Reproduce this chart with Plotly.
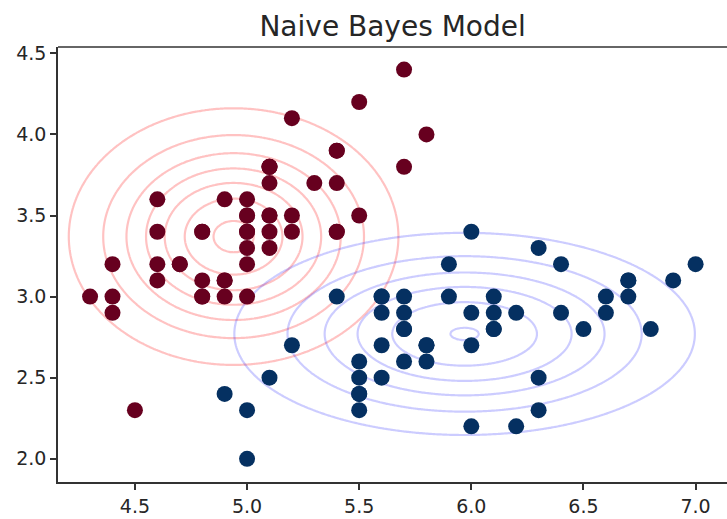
import numpy as np
import plotly.graph_objects as go

# ---- data (iris: sepal length vs sepal width) ----
class0_x = [5.1, 4.9, 4.7, 4.6, 5.0, 5.4, 4.6, 5.0, 4.4, 4.9, 5.4, 4.8, 4.8, 4.3, 5.8, 5.7, 5.4, 5.1, 5.7, 5.1,
            5.4, 5.1, 4.6, 5.1, 4.8, 5.0, 5.0, 5.2, 5.2, 4.7, 4.8, 5.4, 5.2, 5.5, 4.9, 5.0, 5.5, 4.9, 4.4, 5.1,
            5.0, 4.5, 4.4, 5.0, 5.1, 4.8, 5.1, 4.6, 5.3, 5.0]
class0_y = [3.5, 3.0, 3.2, 3.1, 3.6, 3.9, 3.4, 3.4, 2.9, 3.1, 3.7, 3.4, 3.0, 3.0, 4.0, 4.4, 3.9, 3.5, 3.8, 3.8,
            3.4, 3.7, 3.6, 3.3, 3.4, 3.0, 3.4, 3.5, 3.4, 3.2, 3.1, 3.4, 4.1, 4.2, 3.1, 3.2, 3.5, 3.6, 3.0, 3.4,
            3.5, 2.3, 3.2, 3.5, 3.8, 3.0, 3.8, 3.2, 3.7, 3.3]
class1_x = [7.0, 6.4, 6.9, 5.5, 6.5, 5.7, 6.3, 4.9, 6.6, 5.2, 5.0, 5.9, 6.0, 6.1, 5.6, 6.7, 5.6, 5.8, 6.2, 5.6,
            5.9, 6.1, 6.3, 6.1, 6.4, 6.6, 6.8, 6.7, 6.0, 5.7, 5.5, 5.5, 5.8, 6.0, 5.4, 6.0, 6.7, 6.3, 5.6, 5.5,
            5.5, 6.1, 5.8, 5.0, 5.6, 5.7, 5.7, 6.2, 5.1, 5.7]
class1_y = [3.2, 3.2, 3.1, 2.3, 2.8, 2.8, 3.3, 2.4, 2.9, 2.7, 2.0, 3.0, 2.2, 2.9, 2.9, 3.1, 3.0, 2.7, 2.2, 2.5,
            3.2, 2.8, 2.5, 2.8, 2.9, 3.0, 2.8, 3.0, 2.9, 2.6, 2.4, 2.4, 2.7, 2.7, 3.0, 3.4, 3.1, 2.3, 3.0, 2.5,
            2.6, 3.0, 2.6, 2.3, 2.7, 3.0, 2.9, 2.9, 2.5, 2.8]

# Gaussian naive Bayes model parameters
class0_mean = [4.94, 3.37]
class0_std = [0.352, 0.379]
class1_mean = [5.97, 2.77]
class1_std = [0.514, 0.312]
contour_levels = dict(start=0.135, end=1.16, size=0.17)

x_ticks = [4.5, 5.0, 5.5, 6.0, 6.5, 7.0]
y_ticks = [2.0, 2.5, 3.0, 3.5, 4.0, 4.5]

# ---- model density grid ----
gx = np.linspace(3.9, 7.4, 400)
gy = np.linspace(1.6, 4.8, 400)
GX, GY = np.meshgrid(gx, gy)


def pdf(mean, std):
    return (np.exp(-0.5 * ((GX - mean[0]) / std[0]) ** 2 - 0.5 * ((GY - mean[1]) / std[1]) ** 2)
            / (2 * np.pi * std[0] * std[1]))


fig = go.Figure()
fig.add_trace(go.Scatter(x=class0_x, y=class0_y, mode="markers",
                         marker=dict(size=16, color="#67001f", line=dict(width=0)),
                         hoverinfo="skip", showlegend=False))
fig.add_trace(go.Scatter(x=class1_x, y=class1_y, mode="markers",
                         marker=dict(size=16, color="#053061", line=dict(width=0)),
                         hoverinfo="skip", showlegend=False))
for mean, std, col in [(class0_mean, class0_std, "rgba(255,0,0,0.24)"),
                       (class1_mean, class1_std, "rgba(0,0,255,0.2)")]:
    fig.add_trace(go.Contour(x=gx, y=gy, z=pdf(mean, std),
                             contours=dict(coloring="none", **contour_levels),
                             line=dict(color=col, width=2.2, smoothing=1),
                             showscale=False, showlegend=False, hoverinfo="skip"))

axis_common = dict(showgrid=False, zeroline=False, showline=True, linecolor="#333333", linewidth=1.5,
                   ticks="outside", ticklen=6, tickwidth=1.5, tickcolor="#333333", automargin=False,
                   tickfont=dict(family="DejaVu Sans", size=19, color="#262626"))
fig.update_layout(
    width=727, height=519,
    showlegend=False,
    margin=dict(l=58, r=0, t=47, b=37),
    paper_bgcolor="white", plot_bgcolor="white",
    title=dict(text="Naive Bayes Model", x=0.54, xanchor="center", y=0.95, yanchor="middle",
               font=dict(family="DejaVu Sans", size=28, color="#262626")),
    xaxis=dict(range=[4.157, 7.14], tickvals=x_ticks, ticktext=[f"{v:.1f}" for v in x_ticks], **axis_common),
    yaxis=dict(range=[1.857, 4.539], tickvals=y_ticks, ticktext=[f"{v:.1f}" for v in y_ticks], **axis_common),
    shapes=[dict(type="line", xref="paper", yref="paper", x0=0, x1=1, y0=1, y1=1,
                 line=dict(color="#333333", width=1.5))],
)
fig.write_html("out.html", config={"displayModeBar": False},
               post_script="document.body.style.margin='0';document.body.style.overflow='hidden';")
